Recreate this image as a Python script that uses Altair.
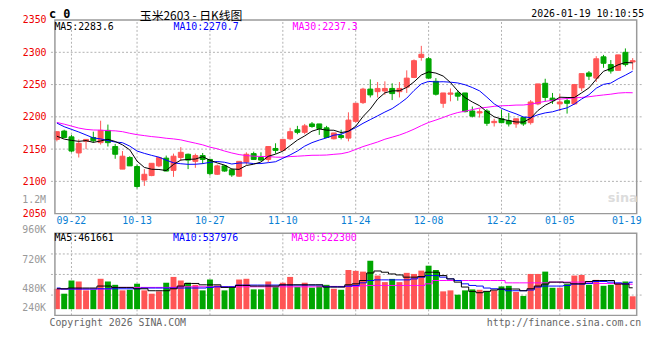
import altair as alt
import pandas as pd

# ---------------- data ----------------
DATES = ["09-18", "09-19", "09-22", "09-23", "09-24", "09-25", "09-26", "09-29", "09-30",
         "10-09", "10-10", "10-13", "10-14", "10-15", "10-16", "10-17", "10-20", "10-21", "10-22", "10-23", "10-24",
         "10-27", "10-28", "10-29", "10-30", "10-31", "11-03", "11-04", "11-05", "11-06", "11-07",
         "11-10", "11-11", "11-12", "11-13", "11-14", "11-17", "11-18", "11-19", "11-20", "11-21",
         "11-24", "11-25", "11-26", "11-27", "11-28", "12-01", "12-02", "12-03", "12-04", "12-05",
         "12-08", "12-09", "12-10", "12-11", "12-12", "12-15", "12-16", "12-17", "12-18", "12-19",
         "12-22", "12-23", "12-24", "12-25", "12-26", "12-29", "12-30", "12-31",
         "01-05", "01-06", "01-07", "01-08", "01-09", "01-12", "01-13", "01-14", "01-15", "01-16", "01-19"]

OPEN = [2165, 2178, 2169, 2144, 2162, 2168, 2160, 2179, 2154, 2119,
        2137, 2123, 2102, 2109, 2124, 2136, 2117, 2137, 2142, 2131,
        2140, 2134, 2111, 2124, 2118, 2108, 2130, 2143, 2137, 2134,
        2151, 2148, 2166, 2180, 2176, 2189, 2189, 2183, 2166, 2171,
        2167, 2193, 2222, 2243, 2239, 2240, 2244, 2239, 2246, 2261,
        2292, 2290, 2255, 2221, 2235, 2237, 2237, 2209, 2206, 2209,
        2191, 2197, 2194, 2189, 2199, 2191, 2220, 2252, 2229, 2220,
        2225, 2220, 2245, 2268, 2260, 2293, 2281, 2272, 2300, 2285]
HIGH = [2177, 2180, 2172, 2165, 2165, 2177, 2194, 2188, 2158, 2147,
        2139, 2126, 2119, 2128, 2138, 2140, 2143, 2153, 2143, 2143,
        2144, 2135, 2126, 2125, 2120, 2131, 2145, 2146, 2145, 2154,
        2159, 2165, 2183, 2186, 2189, 2192, 2189, 2186, 2175, 2180,
        2207, 2221, 2245, 2258, 2254, 2255, 2252, 2254, 2272, 2289,
        2310, 2293, 2260, 2237, 2244, 2241, 2237, 2216, 2213, 2212,
        2197, 2211, 2206, 2197, 2200, 2226, 2251, 2259, 2237, 2235,
        2230, 2251, 2267, 2271, 2294, 2296, 2288, 2296, 2306, 2291]
LOW = [2162, 2167, 2145, 2137, 2150, 2160, 2157, 2154, 2135, 2119,
       2124, 2089, 2093, 2108, 2122, 2116, 2107, 2132, 2119, 2121,
       2127, 2109, 2110, 2115, 2107, 2107, 2126, 2134, 2132, 2130,
       2143, 2148, 2164, 2173, 2173, 2183, 2172, 2168, 2165, 2165,
       2162, 2191, 2220, 2230, 2230, 2234, 2226, 2230, 2237, 2260,
       2287, 2259, 2233, 2214, 2224, 2225, 2207, 2199, 2199, 2186,
       2185, 2190, 2185, 2183, 2186, 2188, 2218, 2224, 2220, 2209,
       2205, 2219, 2240, 2257, 2254, 2276, 2267, 2272, 2278, 2273]
CLOSE = [2177, 2168, 2147, 2159, 2165, 2163, 2179, 2160, 2142, 2139,
         2124, 2092, 2111, 2128, 2137, 2116, 2139, 2145, 2133, 2140,
         2134, 2112, 2124, 2116, 2110, 2131, 2142, 2134, 2133, 2154,
         2148, 2165, 2177, 2176, 2186, 2185, 2182, 2168, 2175, 2168,
         2195, 2221, 2243, 2234, 2244, 2244, 2236, 2244, 2260, 2287,
         2297, 2260, 2235, 2237, 2237, 2232, 2208, 2201, 2208, 2190,
         2193, 2191, 2189, 2197, 2189, 2223, 2251, 2230, 2225, 2223,
         2221, 2250, 2267, 2263, 2290, 2283, 2271, 2296, 2281, 2287]

MA5 = [2170.0, 2165.5, 2163.5, 2162.0, 2163.2, 2160.4, 2162.6, 2165.2, 2161.8, 2156.6,
       2148.8, 2131.4, 2121.6, 2118.8, 2118.4, 2116.8, 2126.2, 2133.0, 2134.0, 2134.6,
       2138.2, 2132.8, 2128.6, 2125.2, 2119.2, 2118.6, 2124.6, 2126.6, 2130.0, 2138.8,
       2142.2, 2146.8, 2155.4, 2164.0, 2170.4, 2177.8, 2181.2, 2179.4, 2179.2, 2175.6,
       2177.6, 2185.4, 2200.4, 2212.2, 2227.4, 2237.2, 2240.2, 2240.4, 2245.6, 2254.2,
       2264.8, 2269.6, 2267.8, 2263.2, 2253.2, 2240.2, 2229.8, 2223.0, 2217.2, 2207.8,
       2200.0, 2196.6, 2194.2, 2192.0, 2191.8, 2197.8, 2209.8, 2218.0, 2223.6, 2230.4,
       2230.0, 2229.8, 2237.2, 2244.8, 2258.2, 2270.6, 2274.8, 2280.6, 2284.2, 2283.6]
MA10 = [2190.3, 2184.7, 2180.6, 2176.5, 2171.9, 2167.3, 2165.8, 2163.2, 2161.0, 2159.9,
        2154.6, 2147.0, 2143.4, 2140.3, 2137.5, 2132.8, 2128.8, 2127.3, 2126.4, 2126.5,
        2127.5, 2129.5, 2130.8, 2129.6, 2126.9, 2128.4, 2128.7, 2127.6, 2127.6, 2129.0,
        2130.4, 2135.7, 2141.0, 2147.0, 2154.6, 2160.0, 2164.0, 2167.4, 2171.6, 2173.0,
        2177.7, 2183.3, 2189.9, 2195.7, 2201.5, 2207.4, 2212.8, 2220.4, 2228.9, 2240.8,
        2251.0, 2254.9, 2254.1, 2254.4, 2253.7, 2252.5, 2249.7, 2245.4, 2240.2, 2230.5,
        2220.1, 2213.2, 2208.6, 2204.6, 2199.8, 2198.9, 2203.2, 2206.1, 2207.8, 2211.1,
        2213.9, 2219.8, 2227.6, 2234.2, 2244.3, 2250.3, 2252.3, 2258.9, 2264.5, 2270.7]
MA30 = [2191.3, 2188.7, 2185.7, 2182.6, 2180.6, 2179.6, 2179.4, 2178.6, 2178.3, 2177.0,
        2174.5, 2172.4, 2170.9, 2169.4, 2168.3, 2166.8, 2165.8, 2164.3, 2161.7, 2159.2,
        2156.6, 2153.0, 2150.5, 2147.0, 2144.0, 2141.5, 2140.0, 2139.0, 2138.6, 2138.5,
        2137.5, 2137.4, 2138.4, 2139.0, 2139.7, 2140.4, 2140.5, 2140.8, 2141.9, 2142.8,
        2145.2, 2149.5, 2153.9, 2157.4, 2161.0, 2165.3, 2168.5, 2171.8, 2176.0, 2180.9,
        2186.4, 2191.3, 2195.0, 2199.0, 2203.3, 2206.6, 2208.8, 2211.1, 2213.6, 2214.8,
        2216.3, 2217.1, 2217.5, 2218.2, 2218.3, 2219.6, 2221.9, 2224.0, 2225.6, 2227.5,
        2228.3, 2229.3, 2230.1, 2231.1, 2232.6, 2233.9, 2235.1, 2236.8, 2237.5, 2237.3]

# volume in thousands (K)
VOLUME = [485, 445, 552, 544, 472, 477, 566, 544, 517, 472,
          477, 526, 472, 445, 464, 534, 581, 552, 534, 517,
          472, 560, 512, 472, 491, 560, 566, 480, 480, 544,
          499, 534, 581, 499, 534, 494, 507, 517, 485, 477,
          637, 630, 624, 712, 592, 539, 565, 539, 614, 605,
          632, 672, 637, 464, 472, 437, 472, 480, 477, 464,
          472, 504, 509, 459, 427, 605, 605, 624, 493, 493,
          523, 592, 597, 517, 557, 509, 517, 525, 544, 424]
VMA5 = [485, 485, 491, 491, 491, 491, 507, 507, 496, 496,
        496, 485, 485, 469, 469, 469, 485, 507, 528, 528,
        517, 517, 517, 496, 496, 512, 512, 507, 507, 507,
        507, 517, 517, 517, 517, 517, 517, 499, 499, 499,
        517, 525, 552, 613, 629, 619, 605, 597, 579, 579,
        584, 619, 619, 592, 565, 539, 499, 464, 453, 464,
        475, 483, 483, 483, 469, 485, 507, 523, 539, 539,
        533, 525, 525, 544, 552, 552, 552, 523, 523, 493]
VMA10 = [491, 483, 483, 483, 483, 483, 485, 485, 485, 485,
         485, 485, 491, 491, 491, 491, 491, 491, 491, 491,
         491, 496, 501, 501, 501, 515, 515, 515, 515, 515,
         515, 515, 515, 515, 515, 515, 515, 501, 501, 501,
         507, 512, 533, 552, 557, 557, 557, 557, 557, 565,
         579, 592, 592, 579, 565, 552, 525, 512, 507, 491,
         485, 480, 469, 469, 469, 475, 499, 507, 507, 507,
         512, 523, 523, 528, 544, 544, 539, 533, 525, 538]
VMA30 = [483, 483, 483, 483, 483, 483, 483, 483, 496, 496,
         496, 496, 496, 496, 496, 496, 496, 501, 501, 501,
         501, 501, 501, 501, 501, 501, 501, 501, 501, 501,
         501, 501, 501, 501, 501, 501, 501, 504, 504, 504,
         504, 504, 509, 512, 512, 512, 512, 512, 512, 512,
         512, 525, 552, 552, 552, 552, 552, 552, 552, 552,
         552, 552, 533, 533, 533, 533, 533, 533, 539, 539,
         539, 539, 539, 533, 528, 528, 528, 528, 525, 522]

TICK_DATES = ["09-22", "10-13", "10-27", "11-10", "11-24", "12-08", "12-22", "01-05"]
LAST_DATE_LABEL = "01-19"
PRICE_TICKS = [2050, 2100, 2150, 2200, 2250, 2300, 2350]
PRICE_GRID = [2100, 2150, 2200, 2250, 2300]
VOL_TICKS = [960, 720, 480]
VOL_GRID = [767, 601, 434]
VOL_BASE = 320          # bottom of the volume bars (K)
VOL_BOX_TOP = 934       # top edge of the volume panel (K)

TITLE = "玉米2603 - 日K线图"
STAMP = "2026-01-19 10:10:55"
PRICE_MA_LABELS = ["MA5:2283.6", "MA10:2270.7", "MA30:2237.3"]
VOL_MA_LABELS = ["MA5:461661", "MA10:537976", "MA30:522300"]

# ---------------- styling ----------------
W, H = 599, 299
RED = "#ff5555"
GREEN = "#00a600"
LINE_COLORS = ["#000000", "#0000ff", "#ff00ff"]
GRID = "#b0b0b0"
BORDER = "#9a9a9a"
MONO = "DejaVu Sans Mono"
CJK = "Noto Sans CJK SC"

XMIN, XMAX = -0.27, 79.55
PRICE_DOMAIN = [2350 - H * 300 / 196, 2350]
VOL_DOMAIN = [960 - (H - 212.7) * 8, 960 + 212.7 * 8]

n = len(DATES)
df = pd.DataFrame({
    "idx": list(range(n)), "date": DATES,
    "open": OPEN, "high": HIGH, "low": LOW, "close": CLOSE,
    "ma5": MA5, "ma10": MA10, "ma30": MA30,
    "vol": VOLUME, "vma5": VMA5, "vma10": VMA10, "vma30": VMA30,
})
df["dir"] = ["up" if c >= o else "down" for o, c in zip(OPEN, CLOSE)]

xs = alt.Scale(domain=[XMIN, XMAX], nice=False, zero=False)
X = alt.X("idx:Q", scale=xs, axis=None)
ps = alt.Scale(domain=PRICE_DOMAIN, nice=False, zero=False)
p_axis = alt.Axis(values=PRICE_TICKS, format="d", labelColor="#ee0000", labelFont=MONO, labelFontSize=10,
                  ticks=False, domain=False, grid=False, labelPadding=4, title=None)
vs = alt.Scale(domain=VOL_DOMAIN, nice=False, zero=False)
cs = alt.Scale(domain=["up", "down"], range=[RED, GREEN])

def PY(field):
    return alt.Y(field, type="quantitative", scale=ps, axis=p_axis)

def VY(field):
    return alt.Y(field, type="quantitative", scale=vs, axis=None)

ONE = pd.DataFrame({"k": [0]})

def label(text, x, y, color="#000000", size=10, align="left", font=MONO, weight="normal"):
    return alt.Chart(ONE).mark_text(
        text=text, align=align, baseline="middle", font=font, fontSize=size,
        color=color, fontWeight=weight
    ).encode(x=alt.value(x), y=alt.value(y))

# ---------------- price panel ----------------
pgrid = alt.Chart(pd.DataFrame({"p": PRICE_GRID})).mark_rule(
    color=GRID, strokeDash=[2, 2], strokeWidth=1
).encode(y=PY("p"))

tick_idx = [DATES.index(d) for d in TICK_DATES]
tdf = pd.DataFrame({"idx": tick_idx, "date": TICK_DATES,
                    "top": [2350] * len(tick_idx), "bottom": [2050] * len(tick_idx),
                    "vtop": [VOL_BOX_TOP] * len(tick_idx), "vbottom": [VOL_DOMAIN[0]] * len(tick_idx)})

pvgrid = alt.Chart(tdf).mark_rule(color=GRID, strokeDash=[2, 2], strokeWidth=1).encode(
    x=X, y=PY("bottom"), y2="top")

pbox = alt.Chart(pd.DataFrame({"x0": [XMIN], "x1": [XMAX], "lo": [2050], "hi": [2350]})).mark_rect(
    fill=None, stroke=BORDER, strokeWidth=1.5
).encode(x=alt.X("x0:Q", scale=xs, axis=None), x2="x1", y=PY("lo"), y2="hi")

base = alt.Chart(df)
wicks = base.mark_rule(strokeWidth=1).encode(
    x=X, y=PY("low"), y2="high", color=alt.Color("dir:N", scale=cs, legend=None))
bodies = base.mark_bar(size=5, strokeWidth=1).encode(
    x=X, y=PY("open"), y2="close",
    fill=alt.Fill("dir:N", scale=cs, legend=None),
    stroke=alt.Stroke("dir:N", scale=cs, legend=None))

ma_lines = [base.mark_line(color=c, strokeWidth=1).encode(x=X, y=PY(f))
            for f, c in zip(["ma30", "ma10", "ma5"], LINE_COLORS[::-1])]

price = alt.layer(pgrid, pvgrid, wicks, bodies, *ma_lines, pbox)

# ---------------- volume panel ----------------
vgrid = alt.Chart(pd.DataFrame({"v": VOL_GRID})).mark_rule(
    color=GRID, strokeDash=[2, 2], strokeWidth=1).encode(y=VY("v"))
vvgrid = alt.Chart(tdf).mark_rule(color=GRID, strokeDash=[2, 2], strokeWidth=1).encode(
    x=X, y=VY("vbottom"), y2="vtop")
vbox = alt.Chart(pd.DataFrame({"x0": [XMIN], "x1": [XMAX], "lo": [VOL_DOMAIN[0]], "hi": [VOL_BOX_TOP]})).mark_rect(
    fill=None, stroke=BORDER, strokeWidth=1.5
).encode(x=alt.X("x0:Q", scale=xs, axis=None), x2="x1", y=VY("lo"), y2="hi")
vbars = base.mark_bar(size=6).encode(
    x=X, y=VY("vol"), y2=alt.datum(VOL_BASE),
    fill=alt.Fill("dir:N", scale=cs, legend=None))
vma_lines = [base.mark_line(color=c, strokeWidth=1, interpolate="step").encode(x=X, y=VY(f))
             for f, c in zip(["vma30", "vma10", "vma5"], LINE_COLORS[::-1])]
vlabels = alt.Chart(pd.DataFrame({"v": VOL_TICKS, "t": [f"{v}K" for v in VOL_TICKS]})).mark_text(
    align="right", baseline="middle", font=MONO, fontSize=10, color="#999999"
).encode(x=alt.value(-4), y=VY("v"), text="t:N")

volume = alt.layer(vgrid, vvgrid, vbars, *vma_lines, vbox, vlabels)

# ---------------- texts ----------------
dlab = alt.Chart(tdf).mark_text(align="center", baseline="middle", font=MONO, fontSize=10,
                                color="#0a7fd4").encode(x=X, y=alt.value(203.7), text="date:N")
texts = [
    dlab,
    label(LAST_DATE_LABEL, W, 203.7, color="#0a7fd4", align="right"),
    label("c 0", -1, -6.5, size=12, weight="bold"),
    label(TITLE, 91, -4.5, size=12, font=CJK),
    label(STAMP, 601.5, -6.3, size=10, align="right"),
    label(PRICE_MA_LABELS[0], 4.5, 7, color=LINE_COLORS[0]),
    label(PRICE_MA_LABELS[1], 125, 7, color=LINE_COLORS[1]),
    label(PRICE_MA_LABELS[2], 245.5, 7, color=LINE_COLORS[2]),
    label(VOL_MA_LABELS[0], 4.5, 220.3, color=LINE_COLORS[0]),
    label(VOL_MA_LABELS[1], 124.5, 220.3, color=LINE_COLORS[1]),
    label(VOL_MA_LABELS[2], 244.5, 220.3, color=LINE_COLORS[2]),
    label("240K", -4, 292, color="#999999", align="right"),
    label("1.2M", -4, 182, color="#999999", align="right"),
    label("Copyright 2026 SINA.COM", -0.5, 306.5, color="#666666"),
    label("http://finance.sina.com.cn", 598.5, 306.5, color="#666666", align="right"),
    label("sina", 595, 180, color="#dcdcdc", size=13, weight="bold", font="DejaVu Sans", align="right"),
]

chart = alt.layer(price, volume, *texts).resolve_scale(y="independent").properties(
    width=W, height=H,
    autosize=alt.AutoSizeParams(type="none"),
    padding={"left": 42.5, "top": 10, "right": 10.5, "bottom": 43},
    background="white",
).configure_view(strokeWidth=0)

chart.save("out.html", embed_options={"renderer": "svg", "actions": False})
